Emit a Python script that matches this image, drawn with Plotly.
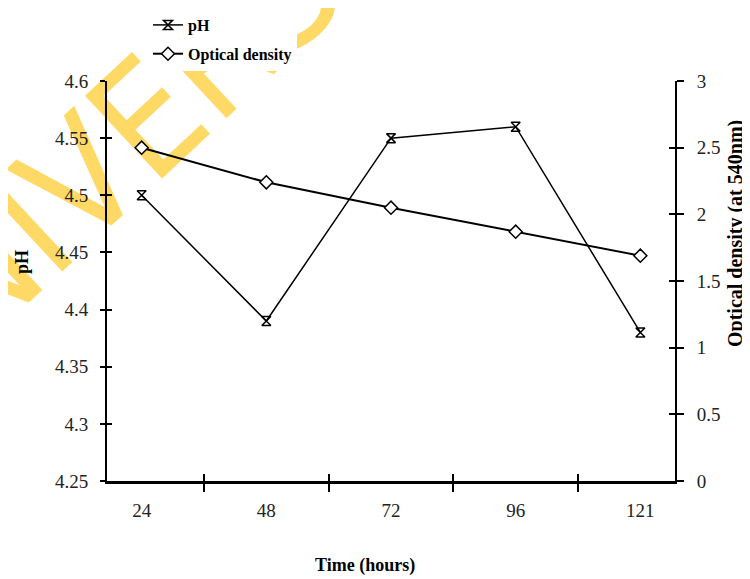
import plotly.graph_objects as go

time_labels = ["24", "48", "72", "96", "121"]
ph_values = [4.50, 4.39, 4.55, 4.56, 4.38]
od_values = [2.50, 2.24, 2.05, 1.87, 1.69]

ph_ticks = [4.25, 4.3, 4.35, 4.4, 4.45, 4.5, 4.55, 4.6]
ph_ticktext = ["4.25", "4.3", "4.35", "4.4", "4.45", "4.5", "4.55", "4.6"]
od_ticks = [0, 0.5, 1, 1.5, 2, 2.5, 3]
od_ticktext = ["0", "0.5", "1", "1.5", "2", "2.5", "3"]

# the page body adds an 8px offset, so the figure is laid out 8px smaller
OFF = 8
W, H = 750 - OFF, 579 - OFF
L, T = 107 - OFF, 81 - OFF
R, B = W - (675 - OFF), H - (481 - OFF)
PW, PH_ = W - L - R, H - T - B

def px(x):  # page pixel -> paper x
    return (x - OFF - L) / PW

def py(y):  # page pixel -> paper y
    return (H - B - (y - OFF)) / PH_

FONT = "Liberation Serif"

fig = go.Figure()
fig.add_trace(go.Scatter(
    x=time_labels, y=ph_values, name="pH", mode="lines+markers",
    line=dict(color="black", width=1.5), legendgroup="a",
    marker=dict(symbol="hourglass-open", size=9, color="black", line=dict(width=1.5)),
    xaxis="x", yaxis="y",
))
fig.add_trace(go.Scatter(
    x=time_labels, y=od_values, name="Optical density", mode="lines+markers",
    line=dict(color="black", width=2), legendgroup="b",
    marker=dict(symbol="diamond", size=10, color="white", line=dict(color="black", width=1.5)),
    xaxis="x", yaxis="y2",
))

tickfont = dict(family=FONT, size=19, color="#222")
titlefont = dict(family=FONT, size=18, color="black", weight="bold")
fig.update_layout(
    width=W, height=H,
    margin=dict(l=L, r=R, t=T, b=B, autoexpand=False),
    paper_bgcolor="white", plot_bgcolor="rgba(0,0,0,0)",
    showlegend=True,
    legend=dict(
        xref="container", yref="container",
        x=(148 - OFF) / W, y=1 + 5 / H, xanchor="left", yanchor="top",
        bgcolor="white", font=dict(family=FONT, size=16, color="black", weight="bold"),
        tracegroupgap=5, itemwidth=30,
    ),
    xaxis=dict(
        type="category", categoryorder="array", categoryarray=time_labels,
        tickson="boundaries", ticks="outside", ticklen=8, tickwidth=2, tickcolor="black",
        showline=True, linecolor="black", linewidth=3, showgrid=False, zeroline=False,
        tickfont=tickfont, ticklabelstandoff=10, automargin=False,
        anchor="y", domain=[0, 1],
    ),
    xaxis2=dict(
        type="category", categoryorder="array", categoryarray=time_labels,
        tickson="boundaries", ticks="inside", ticklen=7, tickwidth=2, tickcolor="black",
        showline=False, showgrid=False, zeroline=False, showticklabels=False,
        overlaying="x", anchor="y", matches="x", automargin=False,
    ),
    yaxis=dict(
        range=[4.25, 4.6], tickvals=ph_ticks, ticktext=ph_ticktext,
        ticks="outside", ticklen=5, tickwidth=2, tickcolor="black",
        showline=True, linecolor="black", linewidth=2, showgrid=False, zeroline=False,
        tickfont=tickfont, ticklabelstandoff=8, automargin=False,
        anchor="x",
    ),
    yaxis2=dict(
        range=[0, 3], tickvals=od_ticks, ticktext=od_ticktext,
        ticks="outside", ticklen=7, tickwidth=2, tickcolor="black",
        showline=True, linecolor="black", linewidth=2, showgrid=False, zeroline=False,
        tickfont=tickfont, ticklabelstandoff=9, automargin=False,
        side="right", overlaying="y", anchor="x",
    ),
    yaxis3=dict(
        range=[4.25, 4.6], tickvals=ph_ticks, ticks="inside", ticklen=5, tickwidth=2,
        tickcolor="black", showticklabels=False, showline=False, showgrid=False,
        zeroline=False, overlaying="y", anchor="x", automargin=False,
    ),
    yaxis4=dict(
        range=[0, 3], tickvals=od_ticks, ticks="inside", ticklen=6, tickwidth=2,
        tickcolor="black", showticklabels=False, showline=False, showgrid=False,
        zeroline=False, overlaying="y", side="right", anchor="x", automargin=False,
    ),
)

# invisible helper traces so the tick-only overlay axes are drawn
fig.add_trace(go.Scatter(x=[time_labels[0]], y=[ph_values[0]], xaxis="x2", yaxis="y3",
                         mode="markers", marker=dict(opacity=0), showlegend=False, hoverinfo="skip"))
fig.add_trace(go.Scatter(x=[time_labels[0]], y=[od_values[0]], xaxis="x", yaxis="y4",
                         mode="markers", marker=dict(opacity=0), showlegend=False, hoverinfo="skip"))

# axis titles
fig.add_annotation(text="Time (hours)", xref="paper", yref="paper", x=px(365), y=py(565),
                   xanchor="center", yanchor="middle", showarrow=False, font=titlefont)
fig.add_annotation(text="pH", xref="paper", yref="paper", x=px(22), y=py(262),
                   xanchor="center", yanchor="middle", textangle=-90, showarrow=False, font=titlefont)
fig.add_annotation(text="Optical density (at 540nm)", xref="paper", yref="paper",
                   x=px(736), y=py(234), xanchor="center", yanchor="middle",
                   textangle=-90, showarrow=False,
                   font=dict(family=FONT, size=20, color="black", weight="bold"))

# watermark (drawn below the plot and legend)
cx, cy = 160, 92
fig.add_shape(
    type="rect", xref="paper", yref="paper", layer="below",
    x0=px(cx - 5), x1=px(cx + 5), y0=py(cy + 5), y1=py(cy - 5),
    line=dict(width=0), fillcolor="rgba(0,0,0,0)",
    label=dict(text="UNIVERSITY", textangle=-43, textposition="middle center",
               font=dict(family="Liberation Sans Narrow, DejaVu Sans Condensed, sans-serif",
                         size=155, color="rgb(255,217,102)")),
)

fig.write_html("out.html")
